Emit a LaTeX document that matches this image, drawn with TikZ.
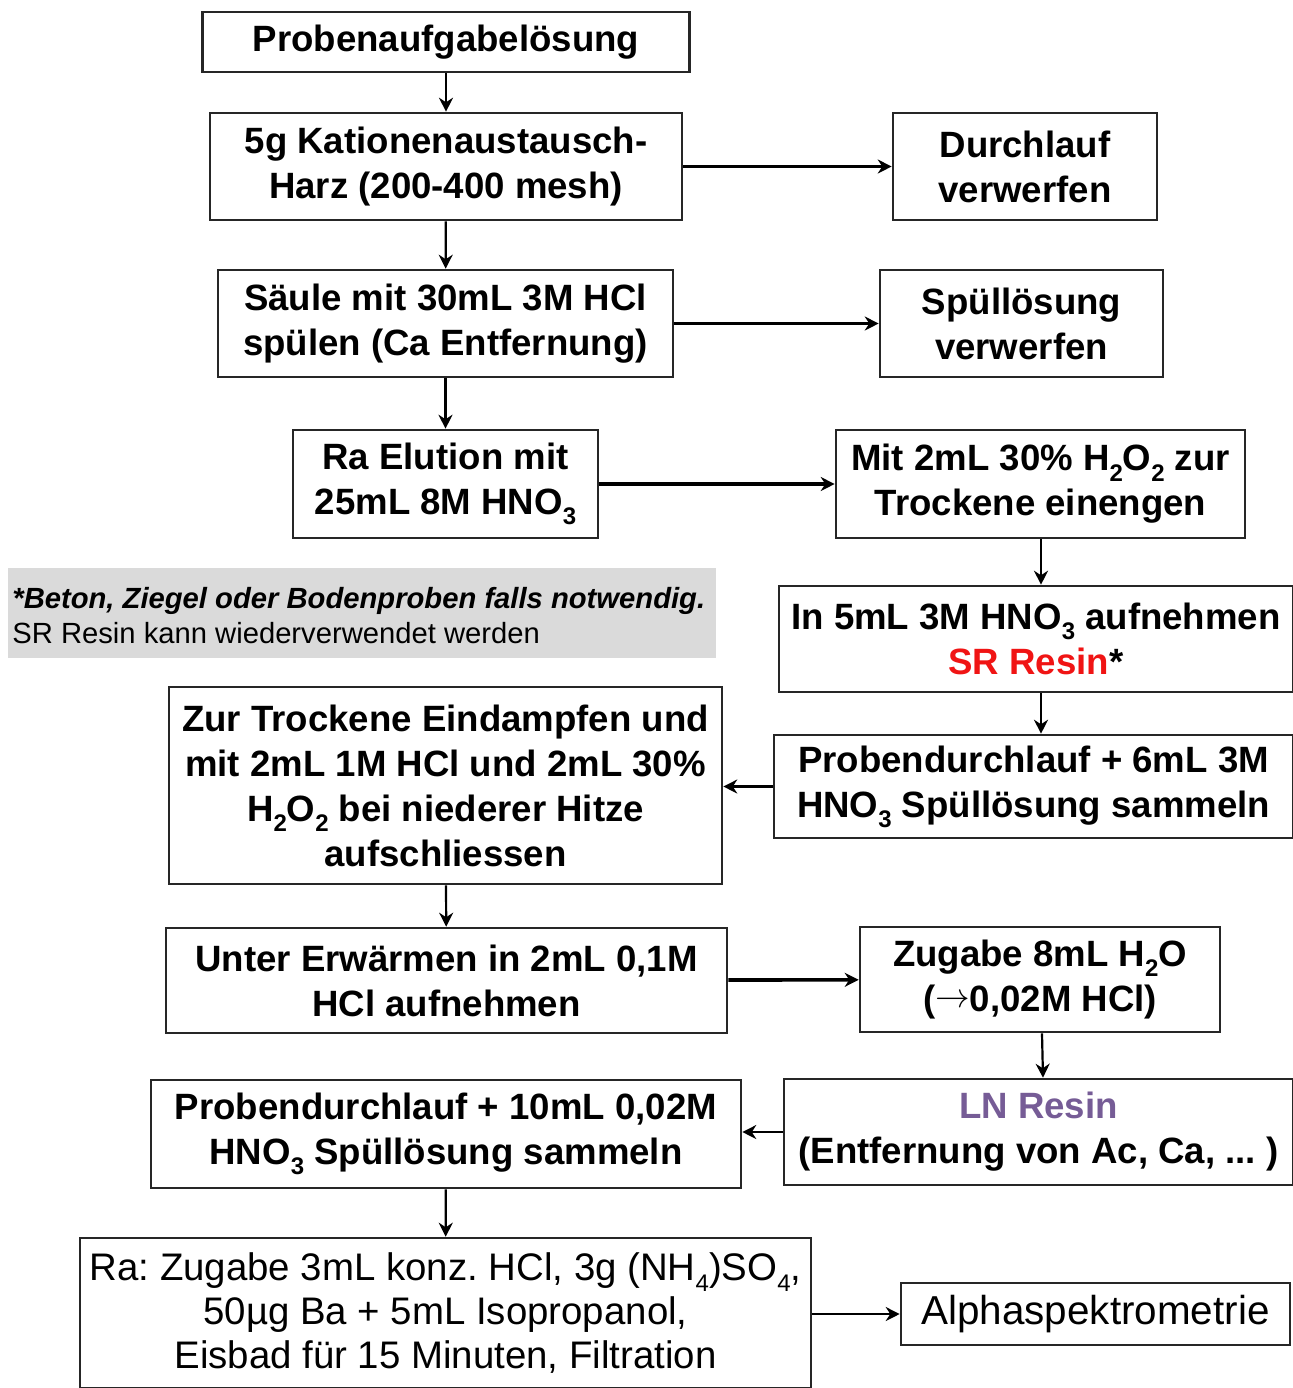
\documentclass[tikz,border=0pt]{standalone}
\usepackage{fontspec}
\setmainfont{Liberation Sans}
\usetikzlibrary{arrows.meta}
\frenchspacing
\newcommand\lowsub[1]{\raisebox{-0.28em}{\fontsize{12}{12}\selectfont #1}}
\definecolor{srred}{RGB}{240,20,20}
\definecolor{lnpurple}{RGB}{118,92,150}
\definecolor{notegray}{RGB}{218,218,218}
\begin{document}
\begin{tikzpicture}[x=0.5pt,y=-0.5pt,
  box/.style={draw=black!85, line width=1.3pt, align=center, inner sep=0pt, fill=white,
    font=\fontsize{18.3}{22.5}\selectfont\bfseries\frenchspacing},
  arr/.style={-{Stealth[length=7pt,width=7pt]}, line width=1.1pt},
  thickarr/.style={-{Stealth[length=7pt,width=7pt]}, line width=1.8pt}]
\useasboundingbox[fill=white] (0,0) rectangle (1293,1388);

\node[box, minimum width=243.5pt, minimum height=30pt] (n1) at (446,42) {Probenaufgabelösung};
\node[box, minimum width=236pt, minimum height=53.5pt] (n2) at (446,166.5) {5g Kationenaustausch-\\Harz (200-400 mesh)};
\node[box, minimum width=132pt, minimum height=53.5pt] (n3) at (1025,166.5) {Durchlauf\\verwerfen};
\node[box, minimum width=227.5pt, minimum height=53.5pt] (n4) at (445.5,323.5) {Säule mit 30mL 3M HCl\\spülen (Ca Entfernung)};
\node[box, minimum width=141.5pt, minimum height=53.5pt] (n5) at (1021.5,323.5) {Spüllösung\\verwerfen};
\node[box, minimum width=152.5pt, minimum height=54pt] (n6) at (445.5,484) {Ra Elution mit\\25mL 8M HNO\lowsub{3}};
\node[box, minimum width=204.5pt, minimum height=54pt] (n7) at (1040.5,484) {Mit 2mL 30\% H\lowsub{2}O\lowsub{2} zur\\Trockene einengen};

\fill[notegray] (8,568) rectangle (716,658);
\node[anchor=north west, align=left, inner sep=0pt, font=\fontsize{14.6}{17.5}\selectfont\frenchspacing] (note) at (12,587)
  {\textbf{\textit{*Beton, Ziegel oder Bodenproben falls notwendig.}}\\SR Resin kann wiederverwendet werden};

\node[box, minimum width=257pt, minimum height=53pt] (n9) at (1036,639) {In 5mL 3M HNO\lowsub{3} aufnehmen\\\textcolor{srred}{SR Resin}*};
\node[box, minimum width=276.5pt, minimum height=98.5pt] (n10) at (445.5,785.5) {Zur Trockene Eindampfen und\\mit 2mL 1M HCl und 2mL 30\%\\H\lowsub{2}O\lowsub{2} bei niederer Hitze\\aufschliessen};
\node[box, minimum width=259.5pt, minimum height=51.5pt] (n11) at (1033.5,786.5) {Probendurchlauf + 6mL 3M\\HNO\lowsub{3} Spüllösung sammeln};
\node[box, minimum width=280.5pt, minimum height=52.5pt] (n12) at (446.5,980.5) {Unter Erwärmen in 2mL 0,1M\\HCl aufnehmen};
\node[box, minimum width=180pt, minimum height=52.5pt] (n13) at (1040,979.5) {Zugabe 8mL H\lowsub{2}O\\(\raisebox{0.1em}{$\rightarrow$}0,02M HCl)};
\node[box, minimum width=295pt, minimum height=54pt] (n14) at (446,1134) {Probendurchlauf + 10mL 0,02M\\HNO\lowsub{3} Spüllösung sammeln};
\node[box, minimum width=254.5pt, minimum height=53pt] (n15) at (1038.5,1132) {\textcolor{lnpurple}{LN Resin}\\(Entfernung von Ac, Ca, ... )};
\node[box, minimum width=365.5pt, minimum height=75pt, font=\fontsize{19.2}{22}\selectfont\frenchspacing] (n16) at (445.5,1313) {Ra: Zugabe 3mL konz. HCl, 3g (NH\lowsub{4})SO\lowsub{4},\\50µg Ba + 5mL Isopropanol,\\Eisbad für 15 Minuten, Filtration};
\node[box, minimum width=194.5pt, minimum height=31pt, font=\fontsize{20.2}{22}\selectfont] (n17) at (1095.5,1314) {Alphaspektrometrie};

\draw[arr] (n1) -- (n2);
\draw[arr] (n2) -- (n4);
\draw[arr] (n4) -- (n6);
\draw[arr] (n2) -- (n3);
\draw[arr] (n4) -- (n5);
\draw[thickarr] (n6) -- (n7);
\draw[arr] (n7.south -| 1041,0) -- (1041,0 |- n9.north);
\draw[arr] (n9.south -| 1041,0) -- (1041,0 |- n11.north);
\draw[arr] (n11.west) -- (n11.west -| n10.east);
\draw[arr] (n10) -- (n12);
\draw[thickarr] (n12) -- (n13);
\draw[arr] (n13.south -| 1042,0) -- (1043,0 |- n15.north);
\draw[arr] (n15.west) -- (n15.west -| n14.east);
\draw[arr] (n14) -- (n16);
\draw[arr] (n16.east |- n17) -- (n17.west);
\end{tikzpicture}
\end{document}
